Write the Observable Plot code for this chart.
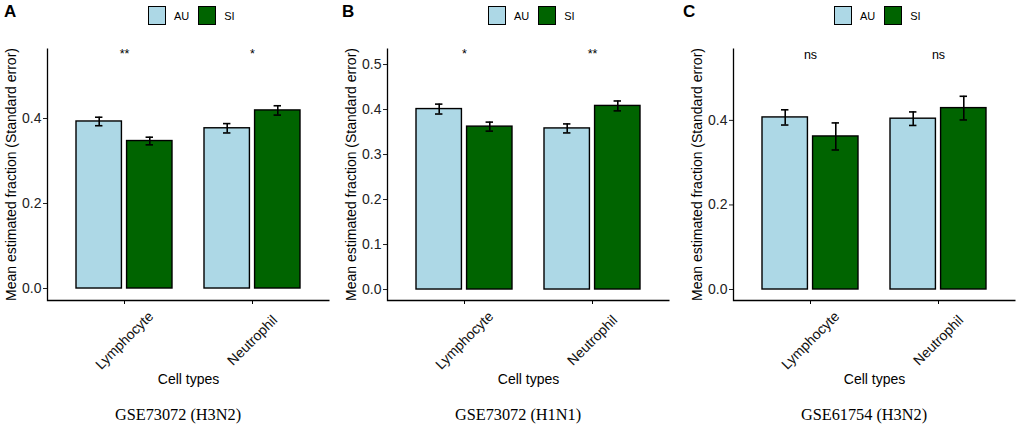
<!DOCTYPE html>
<html><head><meta charset="utf-8">
<script src="https://cdn.jsdelivr.net/npm/d3@7"></script>
<script src="https://cdn.jsdelivr.net/npm/@observablehq/plot@0.6"></script>
<style>
body{margin:0;background:#fff;}
#root{position:relative;width:1021px;height:427px;overflow:hidden;font-family:"Liberation Sans",Arial,sans-serif;color:#000;background:#fff;}
.letter{position:absolute;top:2px;font-weight:bold;font-size:17px;}
.legend{position:absolute;top:6px;display:flex;align-items:center;font-size:11px;}
.sw{width:18px;height:19px;border:1.6px solid #000;box-sizing:border-box;}
.lab{margin:0 9px 0 8px;}
.cap{position:absolute;top:405px;width:300px;text-align:center;font-family:"Liberation Serif","Times New Roman",serif;font-size:16.3px;}
.plotwrap{position:absolute;top:40px;width:340px;height:345px;}
.plotwrap svg{max-width:none !important;}
</style></head>
<body><div id="root"></div>
<script>
const cellTypes = ["Lymphocyte", "Neutrophil"];
const groups = ["AU", "SI"];
const groupColors = ["#ADD8E6", "#006400"];
const panelIds = ["A", "B", "C"];
const datasets = ["GSE73072 (H3N2)", "GSE73072 (H1N1)", "GSE61754 (H3N2)"];
const auMeans = [[0.393, 0.377], [0.401, 0.358], [0.407, 0.404]];
const auSE = [[0.010, 0.011], [0.011, 0.010], [0.018, 0.016]];
const siMeans = [[0.347, 0.419], [0.362, 0.408], [0.362, 0.429]];
const siSE = [[0.009, 0.011], [0.010, 0.011], [0.032, 0.028]];
const sigLabels = [["**", "*"], ["*", "**"], ["ns", "ns"]];
const sigY = [0.551, 0.523, 0.554];
const yTicks = [[0, 0.2, 0.4], [0, 0.1, 0.2, 0.3, 0.4, 0.5], [0, 0.2, 0.4]];
const yDomains = [[-0.0282, 0.5647], [-0.0244, 0.5356], [-0.026, 0.570]];
const yTitle = "Mean estimated fraction (Standard error)";
const xTitle = "Cell types";

const root = document.getElementById("root");
const panelLeft = [0, 340, 686];
const letterLeft = [4, 342, 683];
const font = "'Liberation Sans', Arial, sans-serif";

function makePanel(k) {
  const W = 340, H = 345, mt = 8, mb = 85, ml = 47, mr = 11;
  const plotW = W - ml - mr, plotH = H - mt - mb;
  const pi = 0.25, po = 0.22;
  const step = plotW / (cellTypes.length - pi + 2 * po);
  const bw = step * (1 - pi);
  const barW = 46, capHalf = 4;
  const off = bw / 2 - barW / 2;
  const au = cellTypes.map((c, i) => ({cell: c, mean: auMeans[k][i], se: auSE[k][i]}));
  const si = cellTypes.map((c, i) => ({cell: c, mean: siMeans[k][i], se: siSE[k][i]}));
  const sig = cellTypes.map((c, i) => ({cell: c, label: sigLabels[k][i], y: sigY[k]}));
  const eb = {strokeWidth: 1.6, stroke: "black"};
  return Plot.plot({
    width: W, height: H, marginTop: mt, marginBottom: mb, marginLeft: ml, marginRight: mr,
    style: {fontFamily: font, background: "transparent", color: "#000", overflow: "visible"},
    x: {type: "band", domain: cellTypes, paddingInner: pi, paddingOuter: po},
    y: {domain: yDomains[k]},
    marks: [
      Plot.barY(au, {x: "cell", y1: 0, y2: "mean", fill: groupColors[0], stroke: "black", strokeWidth: 1.4, insetRight: bw - barW}),
      Plot.barY(si, {x: "cell", y1: 0, y2: "mean", fill: groupColors[1], stroke: "black", strokeWidth: 1.4, insetLeft: bw - barW}),
      Plot.ruleX(au, {x: "cell", y1: d => d.mean - d.se, y2: d => d.mean + d.se, dx: -off, ...eb}),
      Plot.ruleX(si, {x: "cell", y1: d => d.mean - d.se, y2: d => d.mean + d.se, dx: off, ...eb}),
      Plot.tickY(au, {x: "cell", y: d => d.mean + d.se, insetLeft: barW / 2 - capHalf, insetRight: bw - barW / 2 - capHalf, ...eb}),
      Plot.tickY(au, {x: "cell", y: d => d.mean - d.se, insetLeft: barW / 2 - capHalf, insetRight: bw - barW / 2 - capHalf, ...eb}),
      Plot.tickY(si, {x: "cell", y: d => d.mean + d.se, insetLeft: bw - barW / 2 - capHalf, insetRight: barW / 2 - capHalf, ...eb}),
      Plot.tickY(si, {x: "cell", y: d => d.mean - d.se, insetLeft: bw - barW / 2 - capHalf, insetRight: barW / 2 - capHalf, ...eb}),
      Plot.text(sig, {x: "cell", y: "y", text: "label", fontSize: 12.5, fill: "#000"}),
      Plot.axisY({ticks: yTicks[k], tickFormat: d3.format(".1f"), tickSize: 4, tickPadding: 2, fontSize: 14, label: null, color: "#222"}),
      Plot.axisX({tickSize: 4, tickFormat: () => "", label: null}),
      Plot.text(cellTypes, {x: d => d, frameAnchor: "bottom", dy: 40, rotate: -45, fontSize: 14, textAnchor: "middle", lineAnchor: "middle", fill: "#111"}),
      Plot.text([yTitle], {frameAnchor: "left", rotate: -90, dx: -35.5, fontSize: 14, textAnchor: "middle", lineAnchor: "middle", fill: "#000"}),
      Plot.text([xTitle], {frameAnchor: "bottom", dy: 79, fontSize: 14, lineAnchor: "middle", fill: "#000"}),
      Plot.frame({stroke: "black", strokeWidth: 1.3, strokeDasharray: `0 ${plotW + plotH} ${plotW + plotH}`})
    ]
  });
}

panelIds.forEach((id, k) => {
  const L = panelLeft[k];
  const letter = document.createElement("div");
  letter.className = "letter";
  letter.style.left = letterLeft[k] + "px";
  letter.textContent = id;
  root.appendChild(letter);

  const lg = document.createElement("div");
  lg.className = "legend";
  lg.style.left = (L + 148) + "px";
  groups.forEach((g, j) => {
    const sw = document.createElement("div");
    sw.className = "sw";
    sw.style.background = groupColors[j];
    const t = document.createElement("span");
    t.className = "lab";
    t.textContent = g;
    lg.appendChild(sw); lg.appendChild(t);
  });
  root.appendChild(lg);

  const wrap = document.createElement("div");
  wrap.className = "plotwrap";
  wrap.style.left = L + "px";
  wrap.appendChild(makePanel(k));
  root.appendChild(wrap);

  const cap = document.createElement("div");
  cap.className = "cap";
  cap.style.left = (L + 178 - 150) + "px";
  cap.textContent = datasets[k];
  root.appendChild(cap);
});
</script></body></html>
